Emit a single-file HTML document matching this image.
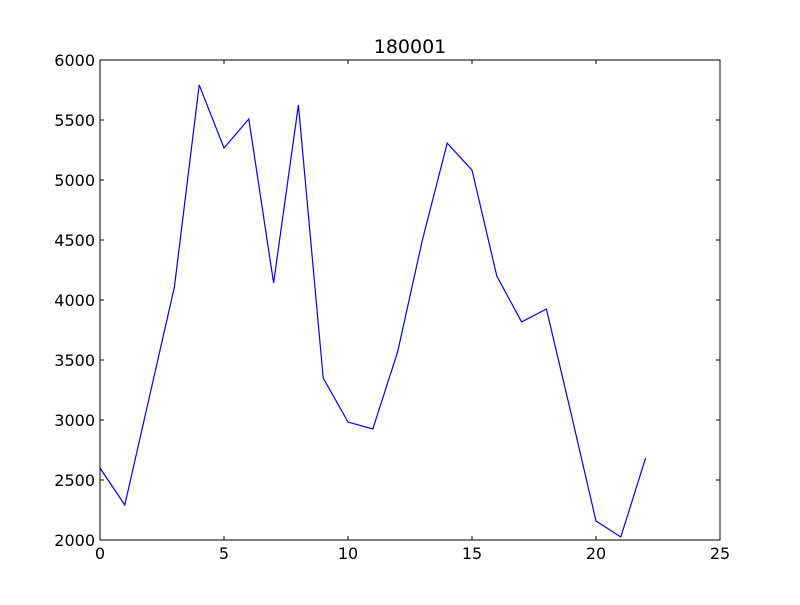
<!DOCTYPE html>
<html><head><meta charset="utf-8"><style>
body{margin:0;background:#fff;}
svg text{font-family:"DejaVu Sans","Liberation Sans",sans-serif;}
</style></head><body>
<svg id="chart" width="800" height="600" xmlns="http://www.w3.org/2000/svg">
<rect width="800" height="600" fill="#fff"/>
<text x="410" y="53" font-size="19" text-anchor="middle">180001</text>
<g id="ticks"></g>
<polyline id="series" fill="none" stroke="#0000ff" stroke-width="1.2"/>
<rect x="100" y="60" width="620" height="480" fill="none" stroke="#000" stroke-width="1"/>
</svg>
<script>
const xValues = [0,1,2,3,4,5,6,7,8,9,10,11,12,13,14,15,16,17,18,19,20,21,22];
const yValues = [2600,2292,3200,4108,5792,5267,5508,4142,5625,3350,2983,2925,3567,4500,5308,5083,4200,3817,3925,3050,2158,2025,2683];
const xTicks = [0,5,10,15,20,25];
const yTicks = [2000,2500,3000,3500,4000,4500,5000,5500,6000];
const L=100,R=720,T=60,B=540,xMin=0,xMax=25,yMin=2000,yMax=6000;
const sx=v=>L+(v-xMin)/(xMax-xMin)*(R-L);
const sy=v=>B-(v-yMin)/(yMax-yMin)*(B-T);
const NS="http://www.w3.org/2000/svg";
const g=document.getElementById('ticks');
function mk(tag,attrs){const e=document.createElementNS(NS,tag);for(const k in attrs)e.setAttribute(k,attrs[k]);g.appendChild(e);return e;}
xTicks.forEach(v=>{
  const x=sx(v);
  const t1=mk('line',{x1:x,x2:x,y1:B,y2:B-4,stroke:'#000'});
  
  
  const t2=mk('line',{x1:x,x2:x,y1:T,y2:T+4,stroke:'#000'});
  
  
  const tx=mk('text',{x:x,y:B+19,'font-size':16,'text-anchor':'middle'});
  tx.textContent=v;
  
  
});
yTicks.forEach(v=>{
  const y=sy(v);
  const t1=mk('line',{x1:L,x2:L+4,y1:y,y2:y,stroke:'#000'});
  
  
  const t2=mk('line',{x1:R,x2:R-4,y1:y,y2:y,stroke:'#000'});
  
  
  const tx=mk('text',{x:L-5,y:y+6,'font-size':16,'text-anchor':'end'});
  tx.textContent=v;
  
  
});
document.getElementById('series').setAttribute('points',xValues.map((x,i)=>sx(x)+','+sy(yValues[i])).join(' '));
</script>
</body></html>
